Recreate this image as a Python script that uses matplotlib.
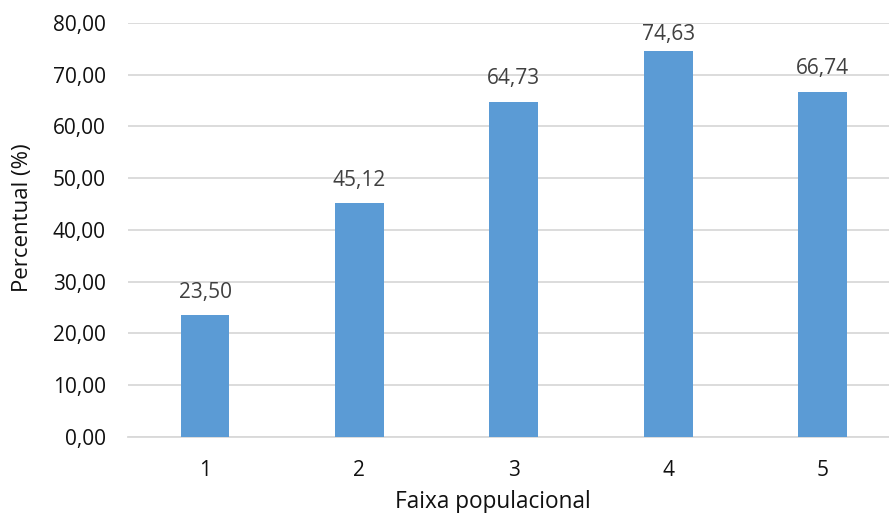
import matplotlib
matplotlib.use("Agg")
import matplotlib.pyplot as plt

# faixa populacional x percentual
faixas = ["1", "2", "3", "4", "5"]
percentuais = [23.50, 45.12, 64.73, 74.63, 66.74]
yticks = [0, 10, 20, 30, 40, 50, 60, 70, 80]

plt.rcParams["font.family"] = ["Open Sans", "DejaVu Sans"]

W, H = 889, 513
fig = plt.figure(figsize=(W / 100, H / 100), dpi=100)
# plot area runs a little past the right edge of the canvas
left, right, top, bottom = 127.8, 899.8, 23.0, 436.7
ax = fig.add_axes([left / W, 1 - bottom / H, (right - left) / W, (bottom - top) / H])

pos = list(range(1, len(faixas) + 1))
ax.bar(pos, percentuais, width=0.317, color="#5B9BD5", zorder=3)

ymax = 80
for x, v in zip(pos, percentuais):
    # label sits above the bar, pushed down when it would leave the plot area
    y = min(v + 3.4, ymax - 3.3)
    ax.text(x, y, f"{v:.2f}".replace(".", ","), ha="center", va="baseline",
            fontsize=15, color="#404040")

ax.set_xlim(0.5, len(faixas) + 0.5)
ax.set_ylim(0, ymax)
ax.set_xticks(pos)
ax.set_xticklabels(faixas)
ax.set_yticks(yticks)
ax.set_yticklabels([f"{t:.2f}".replace(".", ",") for t in yticks])

ax.grid(axis="y", color="#D9D9D9", linewidth=1.3, zorder=0)
for side in ["top", "right", "left"]:
    ax.spines[side].set_visible(False)
ax.spines["bottom"].set_color("#D9D9D9")
ax.spines["bottom"].set_linewidth(1.3)
ax.tick_params(axis="both", length=0, labelsize=15, labelcolor="#111111")
ax.tick_params(axis="x", pad=17)
ax.tick_params(axis="y", pad=16)

fig.text(492.5 / W, 1 - 508 / H, "Faixa populacional", ha="center", va="baseline",
         fontsize=16.3, color="#111111")
fig.text(23 / W, 1 - 217.5 / H, "Percentual (%)", ha="center", va="center",
         rotation=90, fontsize=16, color="#111111")

fig.savefig("out.png", dpi=100)
